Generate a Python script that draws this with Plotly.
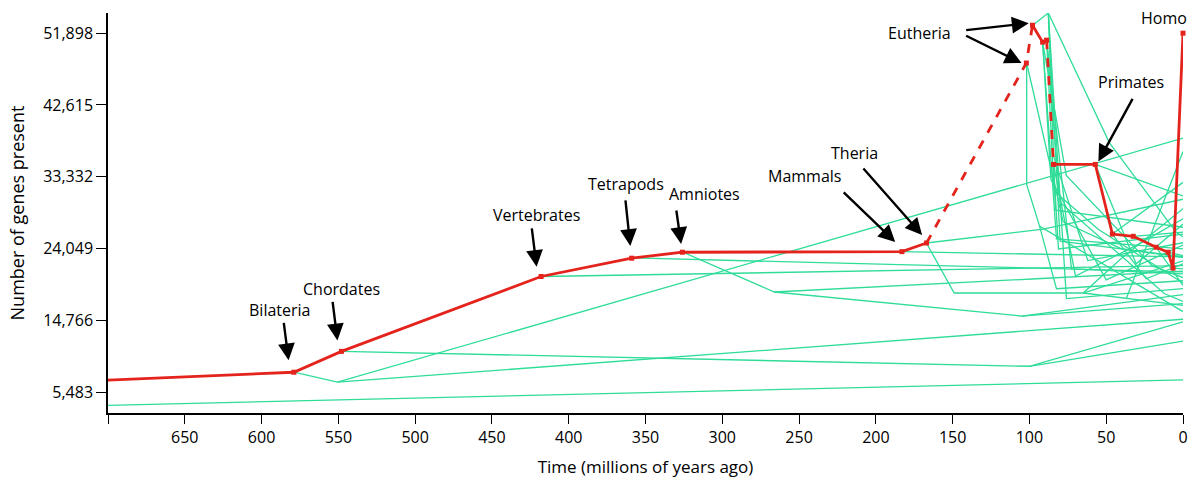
import plotly.graph_objects as go

# ---------------- data ----------------
# Human lineage (red): time (Mya) and number of genes present
homo_time = [700, 579, 548, 418, 359, 326, 183, 167, 102, 98, 91.4, 88.8, 84.3, 57.1, 46, 32.4, 17.5, 9.7, 6.5, 0]
homo_genes = [7026, 8054, 10754, 20436, 22801, 23573, 23650, 24769, 48040, 52926, 50740, 50997,
              34926, 34926, 25925, 25630, 24216, 23573, 21516, 51898]
# dashed (uncertain) segments: index of segment start
homo_dashed_segments = [7, 8, 11]

# Other lineages (green): each branch as list of times and list of gene counts
branch_times = [
    [700, 0],
    [579, 550.6, 0],
    [550.6, 0],
    [548, 100.1, 0],
    [100.1, 0],
    [417.8, 0],
    [358.6, 0],
    [325.6, 266.1, 95.3, 0],
    [266.1, 105.1, 0],
    [105.1, 0],
    [182.9, 0],
    [167.1, 149, 65, 0],
    [167.1, 91, 0],
    [101.8, 101.8, 93.4, 82.4, 0],
    [97.9, 87.7, 48, 4.5, 0],
    [87.7, 75.9, 0],
    [87.7, 84.3, 62, 0],
    [91.4, 82.4, 0],
    [88.8, 72.6, 0],
    [84.3, 81.1, 0],
    [84.3, 70, 30, 0],
    [57.1, 0],
    [57.1, 30.5, 0],
    [46, 0],
    [46, 24, 0],
    [32.4, 0],
    [17.5, 0],
    [9.7, 0],
    [6.5, 0],
    [37, 0],
    [65, 0],
    [93.4, 0],
    [101.8, 78, 40, 0],
    [88.8, 80, 12, 0],
    [91.4, 76, 20, 0],
    [65, 40, 0],
    [87.7, 80, 0],
    [91.4, 86, 50, 0],
    [84.3, 83, 0],
    [88.8, 84, 55, 0],
]
branch_genes = [
    [3760, 7064],
    [8054, 6769, 38320],
    [6769, 14907],
    [10754, 8826, 14573],
    [8826, 12079],
    [20436, 21837],
    [22840, 21040],
    [23573, 18430, 20140, 21117],
    [18430, 15319, 18083],
    [15319, 16926],
    [23650, 22969],
    [24769, 18301, 18301, 22454],
    [24769, 26568, 30425],
    [48040, 32354, 26954, 18854, 19883],
    [52926, 54508, 37754, 26182, 25540],
    [54508, 17569, 18854],
    [54508, 36000, 22500, 24800],
    [50740, 25283, 23997],
    [50997, 21426, 20783],
    [34926, 23997, 25925],
    [34926, 20500, 24500, 27900],
    [34926, 30850],
    [34926, 22068, 27211],
    [25925, 32611],
    [25925, 20140, 22068],
    [25630, 26182],
    [24216, 19279],
    [23573, 23136],
    [21516, 21426],
    [17569, 36597],
    [18301, 16694],
    [26954, 15897],
    [48040, 27500, 24000, 22900],
    [50997, 30000, 18200, 17200],
    [50740, 33500, 21800, 20300],
    [18301, 22800, 29200],
    [54508, 25000, 23000],
    [50740, 33000, 20000, 24500],
    [34926, 29000, 26800],
    [50997, 31500, 26500, 19600],
]

# Clade labels with arrow heads (time, genes) and label positions
label_text = ["Bilateria", "Chordates", "Vertebrates", "Tetrapods", "Amniotes",
              "Mammals", "Theria", "Eutheria", "Primates", "Homo"]
label_time = [588.2, 548, 420.9, 362.5, 311.3, 246.4, 214, 171.9, 33.7, 12.3]
label_genes = [16154, 18854, 28368, 32354, 31068, 33383, 36468, 51898, 45597, 53825]

arrow_time = [582.4, 550.6, 420.9, 359.9, 326.8, 187.4, 169.9, 100.5, 105.1, 55.1]
arrow_genes = [9597, 12169, 21683, 24383, 24640, 24897, 25797, 53182, 48040, 35311]
arrow_dx = [-5, -5, -5, -5, -5, -53, -60, -64, -57, 35]
arrow_dy = [-39, -40, -40, -47, -35, -51, -68, 7, -28, -64]

y_ticks = [5483, 14766, 24049, 33332, 42615, 51898]
x_ticks = [700, 650, 600, 550, 500, 450, 400, 350, 300, 250, 200, 150, 100, 50, 0]

# ---------------- figure ----------------
GREEN = "#2fdc98"
RED = "#e3231c"
FONT = "Open Sans"

fig = go.Figure()

for bt, bg in zip(branch_times, branch_genes):
    fig.add_trace(go.Scatter(x=bt, y=bg, mode="lines",
                             line=dict(color=GREEN, width=1.3),
                             hoverinfo="skip", showlegend=False))

# red lineage: group consecutive segments with same style
n_seg = len(homo_time) - 1
styles = ["dash" if i in homo_dashed_segments else "solid" for i in range(n_seg)]
start = 0
while start < n_seg:
    end = start
    while end + 1 < n_seg and styles[end + 1] == styles[start]:
        end += 1
    fig.add_trace(go.Scatter(x=homo_time[start:end + 2], y=homo_genes[start:end + 2],
                             mode="lines",
                             line=dict(color=RED, width=2.8,
                                       dash="dash" if styles[start] == "dash" else "solid"),
                             hoverinfo="skip", showlegend=False, cliponaxis=False))
    start = end + 1

fig.add_trace(go.Scatter(x=homo_time[1:], y=homo_genes[1:], mode="markers",
                         marker=dict(color=RED, size=5, symbol="square"),
                         hoverinfo="skip", showlegend=False, cliponaxis=False))

for t, g, dx, dy in zip(arrow_time, arrow_genes, arrow_dx, arrow_dy):
    fig.add_annotation(x=t, y=g, ax=dx, ay=dy, text="", showarrow=True,
                       arrowhead=2, arrowsize=1.4, arrowwidth=2.4, arrowcolor="black")

for txt, t, g in zip(label_text, label_time, label_genes):
    fig.add_annotation(x=t, y=g, text=txt, showarrow=False,
                       font=dict(family=FONT, size=16, color="black"))

fig.update_layout(
    width=1200, height=486,
    margin=dict(l=108, r=13, t=13, b=71),
    paper_bgcolor="white", plot_bgcolor="white",
    font=dict(family=FONT, size=16, color="black"),
    showlegend=False,
)
fig.update_xaxes(range=[700, 0], tickvals=x_ticks,
                 ticktext=["" if v == 700 else str(v) for v in x_ticks],
                 showgrid=False, zeroline=False, showline=True, linecolor="black",
                 linewidth=1.5, ticks="outside", ticklen=9, tickwidth=1.3, tickcolor="black",
                 tickfont=dict(family=FONT, size=16),
                 title=dict(text="Time (millions of years ago)", font=dict(family=FONT, size=17), standoff=14))
fig.update_yaxes(range=[2783, 54508], tickvals=y_ticks,
                 ticktext=[f"{v:,}" for v in y_ticks],
                 showgrid=False, zeroline=False, showline=True, linecolor="black",
                 linewidth=1.5, ticks="outside", ticklen=10, tickwidth=1.3, tickcolor="black",
                 tickfont=dict(family=FONT, size=16),
                 title=dict(text="Number of genes present", font=dict(family=FONT, size=18), standoff=14))

fig.write_html("out.html", config={"displayModeBar": False},
               post_script="document.body.style.margin='0';document.body.style.overflow='hidden';")
